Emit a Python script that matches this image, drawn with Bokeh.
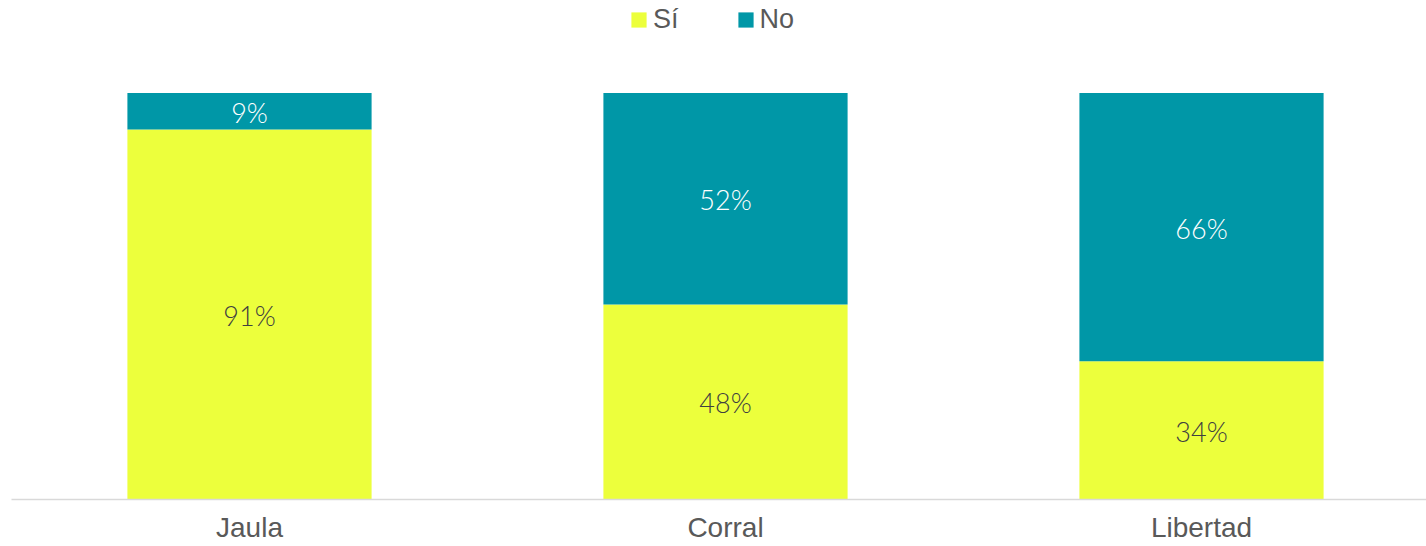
from bokeh.plotting import figure
from bokeh.models import Range1d, FixedTicker, ColumnDataSource, Legend
from bokeh.core.properties import value
from bokeh.embed import file_html
from bokeh.resources import INLINE

categories = ["Jaula", "Corral", "Libertad"]
si = [0.91, 0.48, 0.34]
no = [0.09, 0.52, 0.66]
series_names = ["Sí", "No"]
colors = ["#ECFF3C", "#0097A7"]

xs = list(range(len(categories)))
src = ColumnDataSource(dict(x=xs, si=si, no=no))

p = figure(width=1426, height=546, output_backend="svg", toolbar_location=None,
           x_range=Range1d(-0.5, -0.5 + 1415 / 476), y_range=Range1d(0, 499 / 406.5),
           min_border_left=11, min_border_right=0, min_border_top=0, min_border_bottom=47)

r = p.vbar_stack(["si", "no"], x="x", width=0.513, color=colors, line_color=None, source=src)

# data labels
sy = [v / 2 for v in si]
ny = [s + n / 2 for s, n in zip(si, no)]
lab_si = [f"{round(v*100)}%" for v in si]
lab_no = [f"{round(v*100)}%" for v in no]
lsrc = ColumnDataSource(dict(x=xs, sy=sy, ny=ny, ls=lab_si, ln=lab_no))
p.text(x="x", y="sy", text="ls", source=lsrc, text_align="center", text_baseline="middle",
       text_font=value("Lato Light"), text_font_size="27px", text_color="#404040", y_offset=1)
p.text(x="x", y="ny", text="ln", source=lsrc, text_align="center", text_baseline="middle",
       text_font=value("Lato Light"), text_font_size="27px", text_color="#FFFFFF", y_offset=1)

legend = Legend(items=[(series_names[0], [r[0]]), (series_names[1], [r[1]])],
                orientation="horizontal", location=(618, 464))
legend.margin = 0
legend.padding = 0
legend.spacing = 57
legend.glyph_width = 19
legend.glyph_height = 19
legend.label_standoff = 5
legend.label_height = 24
legend.label_text_font = "Liberation Sans"
legend.label_text_font_size = "27px"
legend.label_text_color = "#595959"
legend.border_line_color = None
legend.background_fill_alpha = 0
p.add_layout(legend, "center")

p.xaxis.ticker = FixedTicker(ticks=xs)
p.xaxis.major_label_overrides = {i: c for i, c in enumerate(categories)}
p.xaxis.axis_line_color = "#D9D9D9"
p.xaxis.axis_line_width = 1.5
p.xaxis.major_tick_line_color = None
p.xaxis.minor_tick_line_color = None
p.xaxis.major_tick_out = 0
p.xaxis.major_tick_in = 0
p.xaxis.minor_tick_out = 0
p.xaxis.major_label_text_font = "Liberation Sans"
p.xaxis.major_label_text_font_size = "28px"
p.xaxis.major_label_text_color = "#595959"
p.xaxis.major_label_standoff = 12
p.yaxis.visible = False
p.xgrid.visible = False
p.ygrid.visible = False
p.outline_line_color = None

open("out.html", "w").write(file_html(p, INLINE))
